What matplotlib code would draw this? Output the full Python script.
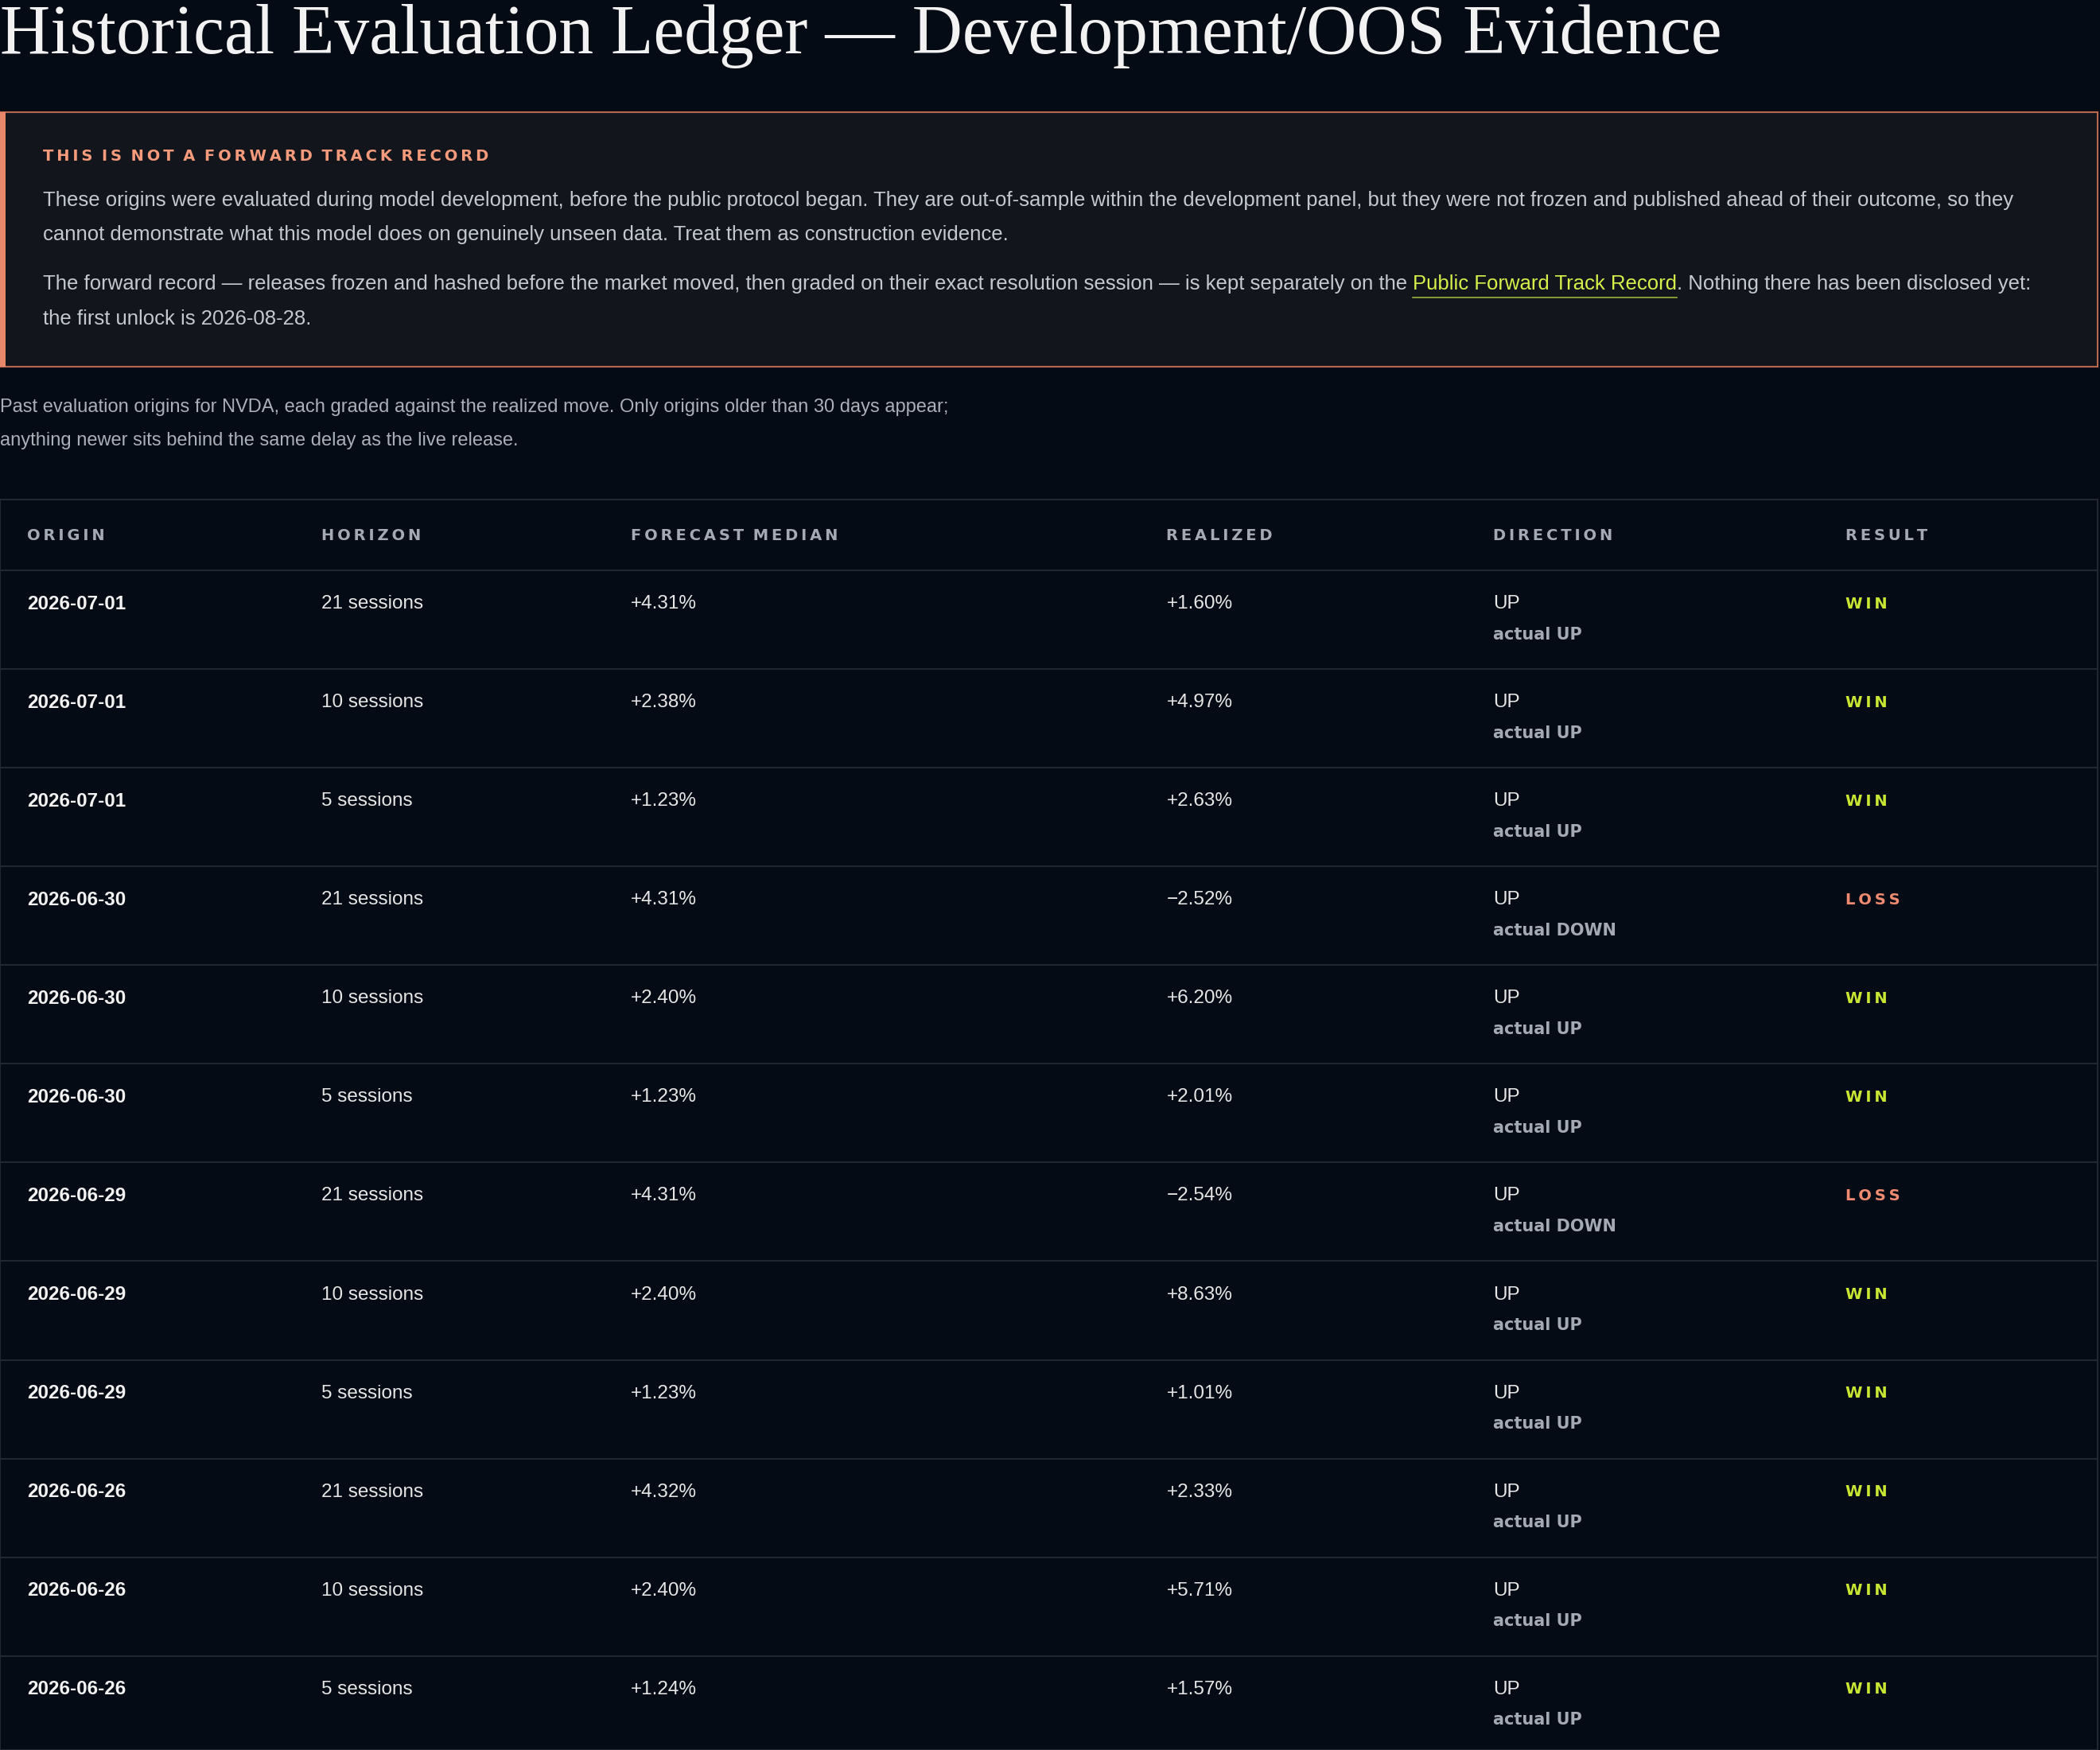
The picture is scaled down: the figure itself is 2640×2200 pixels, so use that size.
import matplotlib
matplotlib.use("Agg")
import matplotlib.pyplot as plt
from matplotlib.patches import Rectangle
from matplotlib.lines import Line2D

origins = ["2026-07-01","2026-07-01","2026-07-01","2026-06-30","2026-06-30","2026-06-30",
           "2026-06-29","2026-06-29","2026-06-29","2026-06-26","2026-06-26","2026-06-26"]
horizons = ["21 sessions","10 sessions","5 sessions"]*4
forecast = ["+4.31%","+2.38%","+1.23%","+4.31%","+2.40%","+1.23%",
            "+4.31%","+2.40%","+1.23%","+4.32%","+2.40%","+1.24%"]
realized = ["+1.60%","+4.97%","+2.63%","\u22122.52%","+6.20%","+2.01%",
            "\u22122.54%","+8.63%","+1.01%","+2.33%","+5.71%","+1.57%"]
direction = ["UP"]*12
actual = ["UP","UP","UP","DOWN","UP","UP","DOWN","UP","UP","UP","UP","UP"]
result = ["WIN","WIN","WIN","LOSS","WIN","WIN","LOSS","WIN","WIN","WIN","WIN","WIN"]
headers = ["ORIGIN","HORIZON","FORECAST MEDIAN","REALIZED","DIRECTION","RESULT"]

W, H = 1568, 1307
BG = "#050b14"
fig = plt.figure(figsize=(26.4, 22), dpi=100, facecolor=BG)
renderer = fig.canvas.get_renderer()

def fx(x): return x / W
def fy(y): return 1 - y / H
def T(x, y, s, **kw):
    kw.setdefault("va", "center")
    return fig.text(fx(x), fy(y), s, **kw)
def width_px(t):
    bb = t.get_window_extent(renderer=renderer)
    return bb.width * W / fig.bbox.width
def hline(x0, x1, y, c, lw=1.5):
    fig.add_artist(Line2D([fx(x0), fx(x1)], [fy(y), fy(y)], color=c, lw=lw))
def spaced(s):
    return "\u2009".join(s).replace("\u2009 \u2009", "\u2009\u2009\u2009")

sans = "Liberation Sans"
T(0, 27, "Historical Evaluation Ledger \u2014 Development/OOS Evidence",
  family="Liberation Serif", fontsize=63, color="#f2f2f2")

fig.add_artist(Rectangle((fx(0), fy(274)), fx(1566), fy(84) - fy(274),
                         facecolor="#12151c", edgecolor="#b8684f", lw=1.5))
fig.add_artist(Rectangle((fx(0), fy(274)), fx(4), fy(84) - fy(274),
                         facecolor="#e8866a", edgecolor="none"))
T(32, 117, spaced("THIS IS NOT A FORWARD TRACK RECORD"),
  family="DejaVu Sans", fontsize=14, weight="bold", color="#f59a7a")
body = "#c4c8cf"
T(32, 150, "These origins were evaluated during model development, before the public protocol began. They are out-of-sample within the development panel, but they were not frozen and published ahead of their outcome, so they",
  family=sans, fontsize=18.5, color=body)
T(32, 175, "cannot demonstrate what this model does on genuinely unseen data. Treat them as construction evidence.",
  family=sans, fontsize=18.5, color=body)
t1 = T(32, 212, "The forward record \u2014 releases frozen and hashed before the market moved, then graded on their exact resolution session \u2014 is kept separately on the\u00a0",
  family=sans, fontsize=18.5, color=body)
x1 = 32 + width_px(t1)
t2 = T(x1, 212, "Public Forward Track Record", family=sans, fontsize=18.5, color="#d6ef4a")
x2 = x1 + width_px(t2)
hline(x1, x2, 222, "#9bb03a", 1.2)
T(x2, 212, ". Nothing there has been disclosed yet:", family=sans, fontsize=18.5, color=body)
T(32, 238, "the first unlock is 2026-08-28.", family=sans, fontsize=18.5, color=body)

T(0, 304, "Past evaluation origins for NVDA, each graded against the realized move. Only origins older than 30 days appear;",
  family=sans, fontsize=17, color="#aab0b8")
T(0, 329, "anything newer sits behind the same delay as the live release.",
  family=sans, fontsize=17, color="#aab0b8")

fig.add_artist(Rectangle((fx(0), fy(1307)), fx(1566), fy(373) - fy(1307),
                         facecolor="none", edgecolor="#1f2732", lw=1.5))
colx = [20, 240, 471, 871, 1115, 1378]
for x, h in zip(colx, headers):
    T(x, 400, spaced(h), family="DejaVu Sans", fontsize=14,
      weight="bold", color="#a3aab3")
hline(0, 1566, 426, "#1f2732")
step = 73.7
for i in range(len(origins)):
    y = 451 + i * step
    T(colx[0], y, origins[i], family=sans, fontsize=17.5, weight="bold", color="#f2f2f2")
    T(colx[1], y, horizons[i], family=sans, fontsize=17.5, color="#e6e6e6")
    T(colx[2], y, forecast[i], family=sans, fontsize=17.5, color="#e6e6e6")
    T(colx[3], y, realized[i], family=sans, fontsize=17.5, color="#e6e6e6")
    T(colx[4], y, direction[i], family=sans, fontsize=17.5, color="#e6e6e6")
    T(colx[4], y + 23, "actual " + actual[i], family="DejaVu Sans", fontsize=15,
      weight="bold", color="#a3aab3")
    win = result[i] == "WIN"
    T(colx[5], y, spaced(result[i]), family="DejaVu Sans", fontsize=14, weight="bold",
      color="#c8e632" if win else "#f08a70")
    if i < len(origins) - 1:
        hline(0, 1566, 426 + (i + 1) * step, "#1f2732")

fig.savefig("out.png", dpi=100, facecolor=BG)
